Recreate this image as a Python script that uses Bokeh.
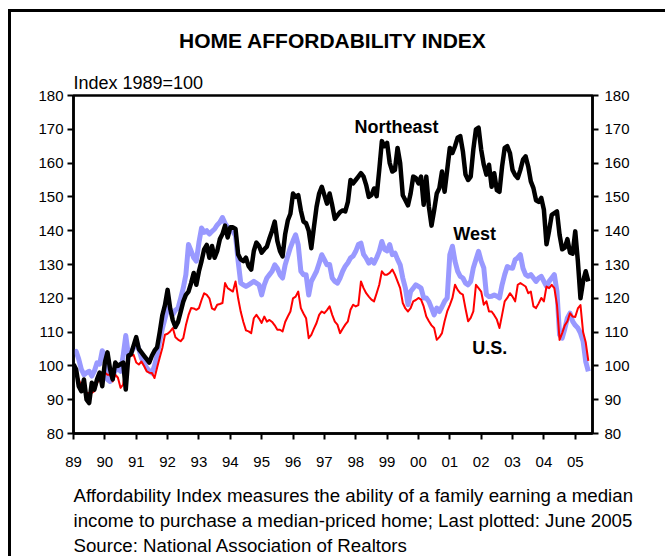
import numpy as np
from bokeh.plotting import figure
from bokeh.models import LinearAxis, Range1d, FixedTicker, Label, Title
from bokeh.embed import file_html
from bokeh.resources import INLINE

# ---------------- data (monthly, Jan 1989 - Jun 2005) ----------------
start_year = 1989
n_months = 198

northeast = [
    100.5, 99, 94, 92.5, 96, 90, 89, 95, 93, 96, 98, 94,
    101, 104, 99, 96, 101, 100, 100.5, 101, 93, 103, 103.5, 106,
    108.5, 105, 104, 103, 102, 101, 103, 104.5, 105.5, 110, 115, 118,
    122.5, 117, 113.5, 111.5, 113, 116, 119, 121, 122, 124.5, 127.5, 124,
    128, 131, 134.5, 135.8, 132, 135.5, 132, 134, 137.5, 139, 141.5, 138,
    141, 141, 140.5, 133, 131.5, 131, 132, 129.5, 128.5, 134, 136.5, 135.5,
    133.5, 134.5, 135.3, 137.8, 140, 142.7, 137, 134, 132.4, 139, 143, 145,
    151, 150, 150.5, 146, 142.7, 142.2, 140, 134.8, 141, 147, 151, 153,
    150.5, 148, 151, 147.5, 143.5, 144.5, 145.5, 146, 145.7, 148.5, 155, 154,
    155, 156, 157, 156, 153.5, 150, 150.5, 152.5, 150.2, 158, 166.5, 165,
    166, 160, 157.5, 158, 164.5, 160, 150.5, 149, 147.5, 151, 156, 155.6,
    154, 156, 147.7, 156, 147, 141.5, 146, 151, 152.6, 157.5, 151.5, 158,
    164.5, 163, 165, 167.5, 168, 163.5, 156.6, 155, 156, 164, 170, 170.5,
    164, 159.5, 156.6, 159.5, 153, 157, 152, 151.5, 159, 164.5, 165, 163,
    158, 156.5, 155.6, 158, 161, 162, 159, 154.6, 152.6, 149, 148.5, 149.7,
    146.2, 136, 140, 144.7, 145.2, 145.7, 138.8, 134.5, 135, 137.5, 133.5, 133.2,
    139.8, 131, 120, 125, 128, 125,
]

west = [
    104, 104.3, 102, 99, 97.4, 98, 98.4, 97, 98.5, 100.9, 100.5, 104.5,
    103, 96, 95.4, 97.4, 98.5, 99.4, 98.4, 103, 109, 103.3, 104, 105.3,
    107.3, 105, 102.3, 101, 99.4, 98.5, 97.9, 100, 103.3, 107.3, 111, 114,
    117.1, 116, 115.2, 116.5, 117.1, 120, 123, 127, 135.9, 134, 132, 131,
    136.5, 140.8, 139.5, 140, 139, 139.8, 140.5, 141.7, 142.5, 143.9, 142.2, 141,
    140.3, 139.8, 138.5, 131, 124.5, 124, 123.5, 124, 124.5, 125, 124.5, 124,
    121, 124, 126, 127, 128, 129.9, 128.9, 127, 126, 129.9, 132.5, 135,
    137, 138.8, 135.8, 128, 127, 127, 121, 125, 126.5, 128, 130.4, 132.9,
    131.4, 129.9, 130, 126, 125, 124.5, 126, 128, 129.5, 130.5, 131.9, 132.5,
    133.9, 135.9, 136.3, 133, 131.9, 130.4, 131.4, 130.4, 132, 133.9, 136.8, 134.5,
    134, 135.9, 132.9, 133.4, 131.5, 129.9, 126, 123, 118.1, 122, 123, 124,
    123.5, 123, 120.1, 120.1, 119, 117.1, 115.1, 117.1, 116.1, 117.5, 119.1, 120.1,
    132.9, 135.4, 130.9, 128, 126.5, 126, 124.5, 124, 125, 129, 131.5, 133.9,
    131, 129, 121.1, 120.5, 120.6, 121, 120.6, 120.1, 124, 127, 129.4, 129,
    128.9, 131.4, 132, 132.9, 128.9, 127, 126.5, 127, 126, 125, 126, 126.5,
    125, 123.5, 125, 126, 127, 122, 109.2, 108.2, 111, 114.2, 115.6, 113.2,
    112, 111.2, 109.7, 107.3, 101.3, 98.4,
]

us = [
    100, 98, 96, 94, 93, 92, 92, 92, 92.5, 95, 96, 97,
    98, 97.4, 97.4, 95.4, 97.4, 96.5, 93.5, 94.5, 100, 102.3, 103, 103.3,
    101, 100.4, 101.3, 100, 98.4, 98, 97.9, 96.4, 99.5, 102.5, 105.3, 109.2,
    109.5, 110.2, 111.2, 108.5, 107.8, 107.3, 108.2, 112, 115, 117.1, 117, 116.6,
    117.1, 119.5, 121.5, 121, 120, 117, 116.6, 118.1, 118.3, 118.6, 124.5, 123,
    122.5, 122, 125, 120, 116, 113, 110.5, 110.2, 109.7, 114.1, 115.1, 114,
    112.7, 114.6, 113.1, 113.6, 113, 112, 110.7, 110.7, 110.2, 113, 114.6, 116.1,
    120, 120.5, 122, 117.1, 115.5, 114.1, 108.2, 109.2, 111, 112.7, 115.1, 116.1,
    115.6, 116.5, 117.6, 115.1, 113.1, 112.2, 109.7, 111, 112.2, 113.2, 116.6, 118.1,
    117.6, 118, 125, 123, 121.5, 120.5, 119.6, 119.1, 121.5, 124, 128, 127,
    127, 127.5, 128.5, 127, 125, 123, 118.6, 117, 116.1, 117.1, 119.1, 119.5,
    120.1, 119.6, 117.6, 114.6, 113.2, 112, 111.2, 107.7, 108.5, 109.7, 113.2, 116.1,
    118, 120.1, 124, 122.5, 121.5, 121.1, 117, 113.2, 114.2, 116.1, 124, 123,
    122, 118.1, 119.1, 116.1, 116.1, 115, 113.7, 111.2, 115.1, 119.1, 120.1, 121.5,
    120.5, 119.1, 124, 124.5, 124, 123.5, 121.5, 122, 117.6, 117.1, 118.5, 120.1,
    119.1, 123.5, 123, 124, 123, 118.1, 107.7, 109.7, 112, 113.2, 115.6, 114.6,
    114.5, 117, 118, 110, 107, 101.5,
]

year_ticks = list(range(1989, 2006))
year_labels = ["89", "90", "91", "92", "93", "94", "95", "96", "97", "98",
               "99", "00", "01", "02", "03", "04", "05"]
y_ticks = [80, 90, 100, 110, 120, 130, 140, 150, 160, 170, 180]

title_text = "HOME AFFORDABILITY INDEX"
unit_text = "Index 1989=100"
series_names = ["Northeast", "West", "U.S."]
note_lines = [
    "Affordability Index measures the ability of a family earning a median",
    "income to purchase a median-priced home; Last plotted: June 2005",
    "Source: National Association of Realtors",
]

months = [start_year + i / 12.0 for i in range(n_months)]

FONT = "Liberation Sans"

frame_style = {
    "background": ("linear-gradient(#000,#000) 8px 9px / 3px 560px no-repeat, "
                   "linear-gradient(#000,#000) 8px 9px / 660px 3px no-repeat, #fff"),
}

p = figure(width=665, height=556,
           x_range=Range1d(1989, 2005.55), y_range=Range1d(80, 180),
           output_backend="svg", toolbar_location=None,
           min_border_left=73, min_border_right=73,
           min_border_top=0, min_border_bottom=0,
           styles=frame_style)

p.grid.visible = False
p.outline_line_color = "black"
p.outline_line_width = 2.5
p.background_fill_color = "white"
p.border_fill_color = None

right_axis = LinearAxis()
p.add_layout(right_axis, "right")

for ax in [p.xaxis[0], p.yaxis[0], right_axis]:
    ax.axis_line_width = 2.5
    ax.axis_line_color = "black"
    ax.major_tick_line_width = 2
    ax.major_tick_line_color = "black"
    ax.major_tick_out = 6
    ax.major_tick_in = 0
    ax.minor_tick_out = 0
    ax.minor_tick_in = 0
    ax.major_label_text_font = FONT
    ax.major_label_text_font_size = "15px"
    ax.major_label_text_color = "black"

p.xaxis[0].ticker = FixedTicker(ticks=year_ticks)
p.xaxis[0].major_label_overrides = {y: l for y, l in zip(year_ticks, year_labels)}
p.xaxis[0].major_label_standoff = 17
p.yaxis[0].ticker = FixedTicker(ticks=y_ticks)
p.yaxis[0].major_label_standoff = 4
right_axis.ticker = FixedTicker(ticks=y_ticks)
right_axis.major_label_standoff = 6

p.line(months, west, line_color="#9999FF", line_width=5, line_join="round")
p.line(months, us, line_color="#FF0000", line_width=2, line_join="round")
p.line(months, northeast, line_color="black", line_width=4.5, line_join="round")

# series labels (inside the frame)
for name, x, y in zip(series_names, [1999.30, 2001.79, 2002.27], [170.6, 139.1, 105.3]):
    p.add_layout(Label(x=x, y=y, text=name, text_font=FONT, text_font_style="bold",
                       text_font_size="18px", text_align="center", text_baseline="middle",
                       text_color="black"))

# ---- texts above the frame (first added = closest to frame) ----
p.add_layout(Title(text=unit_text, align="left", text_font=FONT,
                   text_font_size="18px", text_font_style="normal",
                   text_color="black", standoff=6), "above")
p.add_layout(Title(text=title_text, align="center", text_font=FONT,
                   text_font_size="21px", text_font_style="bold",
                   text_color="black", standoff=32), "above")
p.add_layout(Title(text=" ", align="left", text_font=FONT,
                   text_font_size="1px", standoff=7), "above")

# ---- footnote below the x axis ----
p.add_layout(Title(text=" ", align="left", text_font=FONT,
                   text_font_size="1px", standoff=9), "below")
for line in note_lines:
    p.add_layout(Title(text=line, align="left", text_font=FONT,
                       text_font_size="18.7px", text_font_style="normal",
                       text_color="black", standoff=2), "below")

open("out.html", "w").write(file_html(p, INLINE))
